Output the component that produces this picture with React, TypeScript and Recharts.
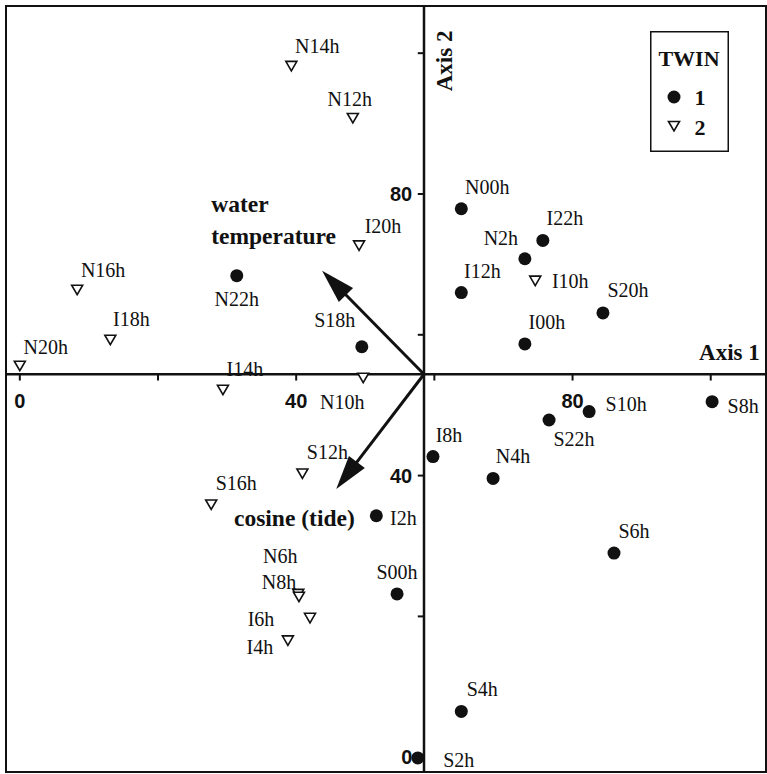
import {
  Legend,
  ReferenceArea,
  ReferenceDot,
  ReferenceLine,
  Scatter,
  ScatterChart,
  XAxis,
  YAxis,
} from 'recharts'

const SERIF = '"Liberation Serif", "Times New Roman", serif'
const SANS = '"Liberation Sans", Arial, sans-serif'

// TWIN 1 (filled circles)
const twin1 = [
  { name: 'N00h', x: 63.9, y: 77.9 },
  { name: 'I22h', x: 75.7, y: 73.4 },
  { name: 'N2h', x: 73.1, y: 70.8 },
  { name: 'I12h', x: 63.9, y: 66.0 },
  { name: 'S20h', x: 84.4, y: 63.1 },
  { name: 'I00h', x: 73.1, y: 58.7 },
  { name: 'S18h', x: 49.5, y: 58.3 },
  { name: 'N22h', x: 31.4, y: 68.4 },
  { name: 'S10h', x: 82.4, y: 49.1 },
  { name: 'S8h', x: 100.2, y: 50.5 },
  { name: 'S22h', x: 76.6, y: 47.9 },
  { name: 'I8h', x: 59.8, y: 42.7 },
  { name: 'N4h', x: 68.5, y: 39.6 },
  { name: 'I2h', x: 51.6, y: 34.3 },
  { name: 'S6h', x: 86.0, y: 29.0 },
  { name: 'S00h', x: 54.6, y: 23.2 },
  { name: 'S4h', x: 63.9, y: 6.5 },
  { name: 'S2h', x: 57.6, y: -0.1 },
]

// TWIN 2 (open triangles)
const twin2 = [
  { name: 'N14h', x: 39.3, y: 98.2 },
  { name: 'N12h', x: 48.2, y: 90.8 },
  { name: 'I20h', x: 49.1, y: 72.7 },
  { name: 'N16h', x: 8.3, y: 66.4 },
  { name: 'I18h', x: 13.1, y: 59.3 },
  { name: 'N20h', x: 0.0, y: 55.6 },
  { name: 'I14h', x: 29.4, y: 52.2 },
  { name: 'N10h', x: 49.7, y: 53.9 },
  { name: 'I10h', x: 74.6, y: 67.7 },
  { name: 'S12h', x: 40.9, y: 40.3 },
  { name: 'S16h', x: 27.7, y: 35.9 },
  { name: 'N6h', x: 40.3, y: 23.2 },
  { name: 'N8h', x: 40.4, y: 22.8 },
  { name: 'I6h', x: 42.0, y: 19.8 },
  { name: 'I4h', x: 38.8, y: 16.6 },
]

const axis1Ticks = [0, 20, 40, 60, 80, 100]
const axis2Ticks = [0, 20, 40, 60, 80, 100]
const axis1Labels = [0, 40, 80]
const axis2Labels = [0, 40, 80]

// where the two axes cross
const origin = { x: 58.5, y: 54.4 }

const vectors = [
  { name: 'water temperature', x: 43.75, y: 69.1 },
  { name: 'cosine (tide)', x: 45.8, y: 38.1 },
]

// label placement around each point, in px (label centre minus point centre)
const labelOffsets: Record<string, [number, number]> = {
  N00h: [26, -22], I22h: [22, -22], N2h: [-24, -21], I12h: [21, -22],
  S20h: [25, -23], I00h: [22, -22], S18h: [-27, -27], N22h: [0, 23],
  S10h: [37, -8], S8h: [31, 4], S22h: [25, 19], I8h: [16, -22],
  N4h: [20, -22], I2h: [27, 2], S6h: [20, -22], S00h: [0, -22],
  S4h: [21, -22], S2h: [41, 2],
  N14h: [26, -20], N12h: [-3, -19], I20h: [24, -19], N16h: [26, -20],
  I18h: [21, -21], N20h: [26, -19], I14h: [22, -21], N10h: [-21, 24],
  I10h: [35, 0], S12h: [25, -21], S16h: [25, -21], N6h: [-18, -38],
  N8h: [-20, -15], I6h: [-49, 1], I4h: [-28, 7],
}

function PointLabel({ cx, cy, name }: { cx: number; cy: number; name: string }) {
  const off = labelOffsets[name] ?? [0, -22]
  return (
    <text
      x={cx + off[0]}
      y={cy + off[1]}
      textAnchor="middle"
      dominantBaseline="central"
      fontFamily={SERIF}
      fontSize={20}
      fill="#111"
    >
      {name}
    </text>
  )
}

function downTriangle(cx: number, cy: number) {
  return `${cx - 5.5},${cy - 4.5} ${cx + 5.5},${cy - 4.5} ${cx},${cy + 5}`
}

const renderCircle = (p: any) => (
  <g>
    <circle cx={p.cx} cy={p.cy} r={6.5} fill="#111" />
    <PointLabel cx={p.cx} cy={p.cy} name={p.payload.name} />
  </g>
)

const renderTriangle = (p: any) => (
  <g>
    <polygon points={downTriangle(p.cx, p.cy)} fill="#fff" stroke="#111" strokeWidth={1.6} />
    <PointLabel cx={p.cx} cy={p.cy} name={p.payload.name} />
  </g>
)

const renderArrow = (p: any) => {
  const { x1, y1, x2, y2 } = p
  const len = Math.hypot(x2 - x1, y2 - y1) || 1
  const ux = (x2 - x1) / len
  const uy = (y2 - y1) / len
  const L = 34
  const W = 10
  const bx = x2 - ux * L
  const by = y2 - uy * L
  return (
    <g>
      <line x1={x1} y1={y1} x2={bx + ux * 2} y2={by + uy * 2} stroke="#111" strokeWidth={3} />
      <polygon
        points={`${x2},${y2} ${bx - uy * W},${by + ux * W} ${bx + uy * W},${by - ux * W}`}
        fill="#111"
      />
    </g>
  )
}

const textShape =
  (content: string, opts: { anchor?: string; size?: number; bold?: boolean; family?: string; rotate?: number; lines?: string[] }) =>
  (p: any) => {
    const { anchor = 'middle', size = 18, bold = false, family = SERIF, rotate = 0, lines } = opts
    return (
      <text
        x={p.cx}
        y={p.cy}
        textAnchor={anchor}
        dominantBaseline="central"
        fontFamily={family}
        fontSize={size}
        fontWeight={bold ? 'bold' : 'normal'}
        fill="#111"
        transform={rotate ? `rotate(${rotate} ${p.cx} ${p.cy})` : undefined}
      >
        {lines
          ? lines.map((l, i) => (
              <tspan key={l} x={p.cx} dy={i === 0 ? 0 : 32}>
                {l}
              </tspan>
            ))
          : content}
      </text>
    )
  }

function LegendBox() {
  return (
    <svg width={79} height={121} style={{ display: 'block' }}>
      <rect x={0.75} y={0.75} width={77.5} height={119.5} fill="#fff" stroke="#111" strokeWidth={1.5} />
      <text x={39} y={27} textAnchor="middle" dominantBaseline="central" fontFamily={SERIF} fontSize={22} fontWeight="bold" fill="#111">
        TWIN
      </text>
      <circle cx={24} cy={66} r={6.5} fill="#111" />
      <text x={50} y={66} textAnchor="middle" dominantBaseline="central" fontFamily={SERIF} fontSize={22} fontWeight="bold" fill="#111">
        1
      </text>
      <polygon points={downTriangle(24, 95)} fill="#fff" stroke="#111" strokeWidth={1.6} />
      <text x={50} y={96} textAnchor="middle" dominantBaseline="central" fontFamily={SERIF} fontSize={22} fontWeight="bold" fill="#111">
        2
      </text>
    </svg>
  )
}

export default function App() {
  const tick = 0.9
  return (
    <div style={{ position: 'absolute', left: 0, top: 0, width: 767, height: 774, background: '#fff' }}>
      <ScatterChart width={767} height={774} margin={{ top: 6, right: 1, bottom: 2, left: 6 }}>
        <XAxis type="number" dataKey="x" domain={[-2, 108]} hide allowDataOverflow />
        <YAxis type="number" dataKey="y" domain={[-2.1, 106.7]} hide allowDataOverflow />

        <ReferenceArea x1={-2} x2={108} y1={-2.1} y2={106.7} fill="none" stroke="#111" strokeWidth={2} fillOpacity={0} />

        <ReferenceLine x={origin.x} stroke="#111" strokeWidth={2.5} />
        <ReferenceLine y={origin.y} stroke="#111" strokeWidth={2.5} />

        {axis1Ticks.map((t) => (
          <ReferenceLine
            key={`xt${t}`}
            segment={[
              { x: t, y: origin.y },
              { x: t, y: origin.y - tick },
            ]}
            stroke="#111"
            strokeWidth={2}
          />
        ))}
        {axis2Ticks.map((t) => (
          <ReferenceLine
            key={`yt${t}`}
            segment={[
              { x: origin.x, y: t },
              { x: origin.x - tick, y: t },
            ]}
            stroke="#111"
            strokeWidth={2}
          />
        ))}

        {axis1Labels.map((t) => (
          <ReferenceDot key={`xl${t}`} x={t} y={50.6} r={0} shape={textShape(String(t), { family: SANS, size: 20, bold: true })} />
        ))}
        {axis2Labels.map((t) => (
          <ReferenceDot key={`yl${t}`} x={56.8} y={t} r={0} shape={textShape(String(t), { family: SANS, size: 20, bold: true, anchor: 'end' })} />
        ))}

        <ReferenceDot x={107.1} y={57.5} r={0} shape={textShape('Axis 1', { size: 23, bold: true, anchor: 'end' })} />
        <ReferenceDot x={61.5} y={98.9} r={0} shape={textShape('Axis 2', { size: 23, bold: true, rotate: -90 })} />

        {vectors.map((v) => (
          <ReferenceLine
            key={v.name}
            segment={[
              { x: origin.x, y: origin.y },
              { x: v.x, y: v.y },
            ]}
            shape={renderArrow}
          />
        ))}
        <ReferenceDot x={27.7} y={78.6} r={0} shape={textShape('water temperature', { size: 23.5, bold: true, anchor: 'start', lines: ['water', 'temperature'] })} />
        <ReferenceDot x={31.0} y={34.0} r={0} shape={textShape('cosine (tide)', { size: 23.5, bold: true, anchor: 'start' })} />

        <Scatter name="1" data={twin1} shape={renderCircle} isAnimationActive={false} />
        <Scatter name="2" data={twin2} shape={renderTriangle} isAnimationActive={false} />

        <Legend
          layout="vertical"
          align="center"
          verticalAlign="middle"
          wrapperStyle={{ position: 'absolute', left: 650, top: 31, width: 79, height: 121 }}
          content={() => <LegendBox />}
        />
      </ScatterChart>
    </div>
  )
}
